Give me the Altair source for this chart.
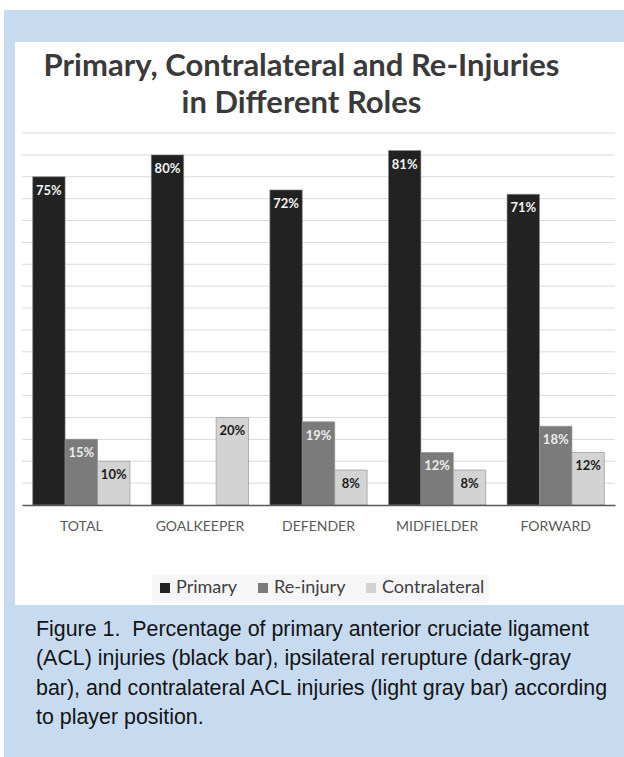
import altair as alt
import pandas as pd

CATEGORIES = ["TOTAL", "GOALKEEPER", "DEFENDER", "MIDFIELDER", "FORWARD"]
SERIES = ["Primary", "Re-injury", "Contralateral"]
PRIMARY = [75, 80, 72, 81, 71]
REINJURY = [15, 0, 19, 12, 18]
CONTRALATERAL = [10, 20, 8, 8, 12]
GRID_VALUES = [5, 10, 15, 20, 25, 30, 35, 40, 45, 50, 55, 60, 65, 70, 75, 80, 85]
TITLE_LINES = ["Primary, Contralateral and Re-Injuries", "in Different Roles"]
CAPTION_LINES = [
    "Figure 1.\u00a0 Percentage of primary anterior cruciate ligament",
    "(ACL) injuries (black bar), ipsilateral rerupture (dark-gray",
    "bar), and contralateral ACL injuries (light gray bar) according",
    "to player position.",
]
COLORS = ["#222222", "#7b7b7b", "#d3d3d3"]
LABEL_COLORS = ["#f2f2f2", "#ececec", "#1c1c1c"]

rows = []
for s, vals in zip(SERIES, [PRIMARY, REINJURY, CONTRALATERAL]):
    for c, v in zip(CATEGORIES, vals):
        if v > 0:
            rows.append({"role": c, "series": s, "value": v})
df = pd.DataFrame(rows)
grid_df = pd.DataFrame({"g": GRID_VALUES})
one = pd.DataFrame({"k": [0]})

W, H = 593, 372
yscale = alt.Scale(domain=[0, 85], nice=False, zero=True)

x_enc = alt.X(
    "role:N",
    sort=CATEGORIES,
    scale=alt.Scale(paddingInner=0.18, paddingOuter=0.09),
    axis=alt.Axis(
        title=None, labelAngle=0, ticks=False, tickSize=0, labelPadding=14,
        labelFont="Lato", labelFontSize=14, labelColor="#595959",
        domainColor="#595959", domainWidth=1.5, grid=False, zindex=1,
    ),
)
xoff = alt.XOffset("series:N", sort=SERIES)

blue = alt.Chart(one).mark_rect(color="#c6dbef").encode(
    x=alt.value(-18), x2=alt.value(602), y=alt.value(-123), y2=alt.value(624)
)
white = alt.Chart(one).mark_rect(color="#ffffff").encode(
    x=alt.value(-7), x2=alt.value(602), y=alt.value(-91), y2=alt.value(472)
)
grid = alt.Chart(grid_df).mark_rule(color="#dadada", strokeWidth=1).encode(
    y=alt.Y("g:Q", scale=yscale, axis=None), x=alt.value(0), x2=alt.value(W)
)

bars = alt.Chart(df).mark_bar(stroke="#8a8a8a", strokeWidth=0.6).encode(
    x=x_enc,
    xOffset=xoff,
    y=alt.Y("value:Q", scale=yscale, axis=None),
    color=alt.Color(
        "series:N",
        sort=SERIES,
        scale=alt.Scale(domain=SERIES, range=COLORS),
        legend=alt.Legend(
            title=None, orient="none", legendX=130, legendY=442,
            direction="horizontal", symbolType="square", symbolSize=100,
            symbolStrokeWidth=0, labelFont="Lato", labelFontSize=18,
            labelColor="#404040", labelOffset=2, columnPadding=16,
            fillColor="#f6f6f6", padding=4,
        ),
    ),
)

labels = []
for s, col in zip(SERIES, LABEL_COLORS):
    labels.append(
        alt.Chart(df).transform_filter(alt.datum.series == s)
        .transform_calculate(lbl="datum.value + '%'")
        .mark_text(font="Lato", fontSize=13, fontWeight="bold", color=col,
                   baseline="top", dy=8)
        .encode(x=x_enc, xOffset=xoff,
                y=alt.Y("value:Q", scale=yscale, axis=None),
                text="lbl:N")
    )

caption = alt.Chart(one).mark_text(
    align="left", baseline="alphabetic", font="Liberation Sans",
    fontSize=21.4, lineHeight=29.3, color="#141414",
).encode(x=alt.value(14), y=alt.value(503), text=alt.value(CAPTION_LINES))

chart = alt.layer(blue, white, grid, bars, *labels, caption).properties(
    width=W, height=H,
    padding={"left": 4, "top": 10, "right": 0, "bottom": 0},
    background="#ffffff",
    title=alt.Title(
        text=TITLE_LINES, anchor="middle", frame="group", dx=-17, offset=-134,
        baseline="alphabetic", lineHeight=37, font="Lato", fontSize=31,
        fontWeight="bold", color="#3a3a3a",
    ),
).configure_view(stroke=None)

chart.save("out.html", embed_options={"renderer": "svg", "actions": False})
